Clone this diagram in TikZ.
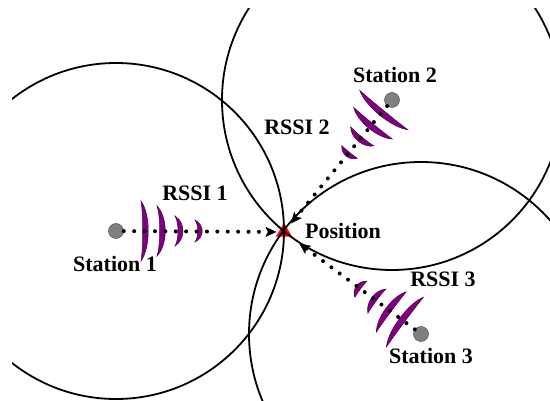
\documentclass[tikz,border=0pt]{standalone}
\usepackage{fontspec}
\setmainfont{Liberation Serif}
\usetikzlibrary{arrows.meta,shapes.geometric}
\definecolor{wavefill}{RGB}{128,0,128}
\definecolor{waveedge}{RGB}{70,0,70}
\definecolor{stationfill}{RGB}{128,128,128}
\definecolor{stationedge}{RGB}{85,85,85}
\definecolor{targetred}{RGB}{255,0,0}
% one crescent-shaped signal wave: chord offset, half length, bow, thickness
\newcommand\wavearc[4]{%
  \filldraw[wave] (#1,-#2)
    .. controls ({#1+(#3+#4/2)/0.75},{-0.55*#2}) and ({#1+(#3+#4/2)/0.75},{0.55*#2}) .. (#1,#2)
    .. controls ({#1+(#3-#4/2)/0.75},{0.55*#2}) and ({#1+(#3-#4/2)/0.75},{-0.55*#2}) .. cycle;}
\begin{document}
\begin{tikzpicture}[x=1pt,y=-1pt,
  ring/.style={line width=1.8pt, black},
  wave/.style={fill=wavefill, draw=waveedge, line width=0.5pt},
  station/.style={circle, fill=stationfill, draw=stationedge, line width=0.5pt,
    minimum size=15pt, inner sep=0pt},
  target/.style={regular polygon, regular polygon sides=3, fill=targetred,
    minimum size=18.5pt, inner sep=0pt},
  signal/.style={line width=4pt, line cap=round, dash pattern=on 0pt off 10.4pt,
    -{Stealth[length=11pt,width=10pt,inset=2.5pt,line width=0.4pt]}},
  lbl/.style={font=\fontsize{22}{26}\selectfont\bfseries, anchor=base, inner sep=0pt}]
\useasboundingbox (0,0) rectangle (550,401);

% station centres
\coordinate (c1) at (116,231);
\coordinate (c2) at (392,100);
\coordinate (c3) at (421,334);

% estimated position
\node[target] (pos) at (284,232) {};

% range circles
\begin{scope}
  \clip (12,9) rectangle (550,401);
  \draw[ring] (c1) circle[radius=168];
  \draw[ring] (c2) circle[radius=170];
  \draw[ring] (c3) circle[radius=172];
\end{scope}

% signal waves of station 1
\begin{scope}[shift={(c1)}, x={(1pt,0pt)}, y={(0pt,1pt)}]
  \wavearc{25}{30}{4.5}{5.5}
  \wavearc{41}{25}{5.5}{5.5}
  \wavearc{59}{15}{5.5}{5}
  \wavearc{79}{11}{5}{4.5}
\end{scope}
% signal waves of station 2
\begin{scope}[shift={(c2)}, x={(-0.633pt,-0.774pt)}, y={(0.774pt,-0.633pt)}]
  \wavearc{13}{31}{3.5}{6}
  \wavearc{30}{25}{3.5}{6}
  \wavearc{47}{15}{3.5}{5.5}
  \wavearc{67}{10}{3}{5}
\end{scope}
% signal waves of station 3
\begin{scope}[shift={(c3)}, x={(-0.802pt,0.597pt)}, y={(0.597pt,0.802pt)}]
  \wavearc{20}{31}{3.5}{6}
  \wavearc{37}{25}{3.5}{6}
  \wavearc{55}{15}{3.5}{5.5}
  \wavearc{75}{10}{3}{5}
\end{scope}

% stations
\node[station] (s1) at (c1) {};
\node[station] (s2) at (c2) {};
\node[station] (s3) at (c3) {};

% RSSI paths towards the position
\draw[signal, shorten >=2pt] (s1) -- (pos);
\draw[signal, shorten >=6pt] (s2) -- (pos);
\draw[signal, shorten >=11pt] (s3) -- (pos);

% labels
\node[lbl] (t1) at (195,201) {RSSI 1};
\node[lbl] (n1) at (115,272) {Station 1};
\node[lbl] (t2) at (297,135) {RSSI 2};
\node[lbl] (n2) at (395,83) {Station 2};
\node[lbl] (np) at (343,239) {Position};
\node[lbl] (t3) at (443,287) {RSSI 3};
\node[lbl] (n3) at (431,363) {Station 3};
\end{tikzpicture}
\end{document}
